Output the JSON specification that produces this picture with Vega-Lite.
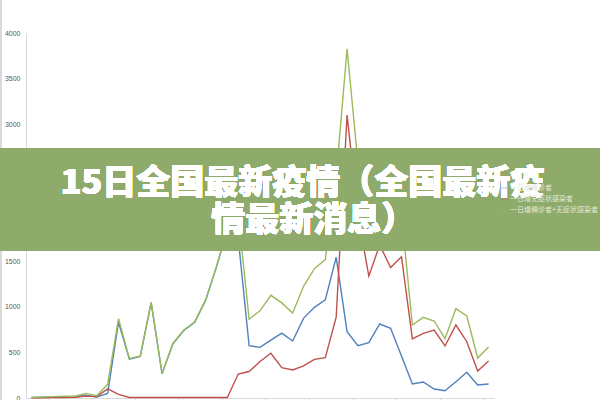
{
  "$schema": "https://vega.github.io/schema/vega-lite/v6.json",
  "autosize": {"type": "none"},
  "padding": {"left": 26, "top": 33, "right": 106, "bottom": 2},
  "width": 468,
  "height": 365,
  "background": "white",
  "config": {
    "view": {"stroke": null},
    "font": "Liberation Sans"
  },
  "data": {
    "values": [
      {"d": 0, "一日增确诊者": 5, "一日增无症状感染者": 2, "一日增确诊者+无症状感染者": 7},
      {"d": 1, "一日增确诊者": 8, "一日增无症状感染者": 2, "一日增确诊者+无症状感染者": 10},
      {"d": 2, "一日增确诊者": 10, "一日增无症状感染者": 5, "一日增确诊者+无症状感染者": 15},
      {"d": 3, "一日增确诊者": 15, "一日增无症状感染者": 5, "一日增确诊者+无症状感染者": 20},
      {"d": 4, "一日增确诊者": 12, "一日增无症状感染者": 8, "一日增确诊者+无症状感染者": 20},
      {"d": 5, "一日增确诊者": 30, "一日增无症状感染者": 20, "一日增确诊者+无症状感染者": 50},
      {"d": 6, "一日增确诊者": 10, "一日增无症状感染者": 15, "一日增确诊者+无症状感染者": 25},
      {"d": 7, "一日增确诊者": 50, "一日增无症状感染者": 100, "一日增确诊者+无症状感染者": 150},
      {"d": 8, "一日增确诊者": 830, "一日增无症状感染者": 40, "一日增确诊者+无症状感染者": 870},
      {"d": 9, "一日增确诊者": 425, "一日增无症状感染者": 5, "一日增确诊者+无症状感染者": 430},
      {"d": 10, "一日增确诊者": 455, "一日增无症状感染者": 5, "一日增确诊者+无症状感染者": 460},
      {"d": 11, "一日增确诊者": 1045, "一日增无症状感染者": 5, "一日增确诊者+无症状感染者": 1050},
      {"d": 12, "一日增确诊者": 265, "一日增无症状感染者": 5, "一日增确诊者+无症状感染者": 270},
      {"d": 13, "一日增确诊者": 595, "一日增无症状感染者": 5, "一日增确诊者+无症状感染者": 600},
      {"d": 14, "一日增确诊者": 740, "一日增无症状感染者": 5, "一日增确诊者+无症状感染者": 745},
      {"d": 15, "一日增确诊者": 830, "一日增无症状感染者": 5, "一日增确诊者+无症状感染者": 835},
      {"d": 16, "一日增确诊者": 1070, "一日增无症状感染者": 5, "一日增确诊者+无症状感染者": 1075},
      {"d": 17, "一日增确诊者": 1435, "一日增无症状感染者": 5, "一日增确诊者+无症状感染者": 1440},
      {"d": 18, "一日增确诊者": 1850, "一日增无症状感染者": 5, "一日增确诊者+无症状感染者": 1855},
      {"d": 19, "一日增确诊者": 1750, "一日增无症状感染者": 263, "一日增确诊者+无症状感染者": 2013},
      {"d": 20, "一日增确诊者": 573, "一日增无症状感染者": 290, "一日增确诊者+无症状感染者": 863},
      {"d": 21, "一日增确诊者": 555, "一日增无症状感染者": 400, "一日增确诊者+无症状感染者": 955},
      {"d": 22, "一日增确诊者": 635, "一日增无症状感染者": 490, "一日增确诊者+无症状感染者": 1125},
      {"d": 23, "一日增确诊者": 710, "一日增无症状感染者": 332, "一日增确诊者+无症状感染者": 1042},
      {"d": 24, "一日增确诊者": 625, "一日增无症状感染者": 307, "一日增确诊者+无症状感染者": 932},
      {"d": 25, "一日增确诊者": 873, "一日增无症状感染者": 351, "一日增确诊者+无症状感染者": 1224},
      {"d": 26, "一日增确诊者": 994, "一日增无症状感染者": 424, "一日增确诊者+无症状感染者": 1418},
      {"d": 27, "一日增确诊者": 1075, "一日增无症状感染者": 442, "一日增确诊者+无症状感染者": 1517},
      {"d": 28, "一日增确诊者": 1542, "一日增无症状感染者": 885, "一日增确诊者+无症状感染者": 2427},
      {"d": 29, "一日增确诊者": 727, "一日增无症状感染者": 3100, "一日增确诊者+无症状感染者": 3827},
      {"d": 30, "一日增确诊者": 573, "一日增无症状感染者": 2000, "一日增确诊者+无症状感染者": 2573},
      {"d": 31, "一日增确诊者": 606, "一日增无症状感染者": 1337, "一日增确诊者+无症状感染者": 1943},
      {"d": 32, "一日增确诊者": 811, "一日增无症状感染者": 1677, "一日增确诊者+无症状感染者": 2488},
      {"d": 33, "一日增确诊者": 764, "一日增无症状感染者": 1430, "一日增确诊者+无症状感染者": 2194},
      {"d": 34, "一日增确诊者": 460, "一日增无症状感染者": 1549, "一日增确诊者+无症状感染者": 2009},
      {"d": 35, "一日增确诊者": 153, "一日增无症状感染者": 647, "一日增确诊者+无症状感染者": 800},
      {"d": 36, "一日增确诊者": 175, "一日增无症状感染者": 709, "一日增确诊者+无症状感染者": 884},
      {"d": 37, "一日增确诊者": 99, "一日增无症状感染者": 745, "一日增确诊者+无症状感染者": 844},
      {"d": 38, "一日增确诊者": 80, "一日增无症状感染者": 570, "一日增确诊者+无症状感染者": 650},
      {"d": 39, "一日增确诊者": 179, "一日增无症状感染者": 800, "一日增确诊者+无症状感染者": 979},
      {"d": 40, "一日增确诊者": 282, "一日增无症状感染者": 617, "一日增确诊者+无症状感染者": 899},
      {"d": 41, "一日增确诊者": 142, "一日增无症状感染者": 296, "一日增确诊者+无症状感染者": 438},
      {"d": 42, "一日增确诊者": 153, "一日增无症状感染者": 405, "一日增确诊者+无症状感染者": 558}
    ]
  },
  "layer": [
    {
      "mark": {"type": "rule", "color": "#d9d9d9", "strokeWidth": 1, "clip": false},
      "encoding": {
        "x": {"datum": -2.78, "type": "quantitative"},
        "y": {"datum": 4360, "type": "quantitative"},
        "y2": {"datum": -20}
      }
    },
    {
      "transform": [
        {"fold": ["一日增确诊者", "一日增无症状感染者", "一日增确诊者+无症状感染者"], "as": ["series", "value"]}
      ],
      "mark": {"type": "line", "strokeWidth": 1.4, "clip": false},
      "encoding": {
        "x": {
          "field": "d",
          "type": "quantitative",
          "scale": {"domain": [-0.5, 42.5], "nice": false, "zero": false},
          "axis": {
            "title": null,
            "labels": false,
            "grid": false,
            "values": [1.5, 3.5, 5.5, 7.5, 9.5, 11.5, 13.5, 15.5, 17.5, 19.5, 21.5, 23.5, 25.5, 27.5, 29.5, 31.5, 33.5, 35.5, 37.5, 39.5, 41.5],
            "ticks": true,
            "tickSize": 4,
            "tickColor": "#d9d9d9",
            "domainColor": "#d9d9d9"
          }
        },
        "y": {
          "field": "value",
          "type": "quantitative",
          "scale": {"domain": [0, 4000], "nice": false},
          "axis": {
            "title": null,
            "values": [0, 500, 1000, 1500, 2000, 2500, 3000, 3500, 4000],
            "format": "d",
            "ticks": false,
            "labelFontSize": 7,
            "labelColor": "#595959",
            "labelPadding": 6,
            "gridColor": "#d9d9d9",
            "domain": true,
            "domainColor": "#d9d9d9"
          }
        },
        "color": {
          "field": "series",
          "type": "nominal",
          "scale": {
            "domain": ["一日增确诊者", "一日增无症状感染者", "一日增确诊者+无症状感染者"],
            "range": ["#4f81bd", "#c0504d", "#9bbb59"]
          },
          "legend": {
            "title": null,
            "orient": "none",
            "legendX": 474,
            "legendY": 151,
            "padding": 0,
            "offset": 0,
            "symbolType": "stroke",
            "symbolSize": 40,
            "symbolStrokeWidth": 1.2,
            "symbolOpacity": 0.35,
            "labelFontSize": 7,
            "labelColor": "#e3e9d9",
            "labelFont": "Noto Sans CJK SC",
            "rowPadding": 4,
            "labelOffset": 2,
            "labelLimit": 200
          }
        }
      }
    },
    {
      "mark": {"type": "rect", "color": "#8fab6c", "opacity": 0.9, "clip": false},
      "encoding": {
        "x": {"datum": -3, "type": "quantitative"},
        "x2": {"datum": 53},
        "y": {"datum": 2740, "type": "quantitative"},
        "y2": {"datum": 1610}
      }
    },
    {
      "mark": {
        "type": "text",
        "text": "15日全国最新疫情（全国最新疫",
        "font": "Noto Sans CJK SC",
        "fontWeight": 900,
        "fontSize": 34,
        "color": "white",
        "align": "center",
        "baseline": "middle",
        "clip": false
      },
      "encoding": {
        "x": {"datum": 24.9, "type": "quantitative"},
        "y": {"datum": 2345, "type": "quantitative"}
      }
    },
    {
      "mark": {
        "type": "text",
        "text": "情最新消息）",
        "font": "Noto Sans CJK SC",
        "fontWeight": 900,
        "fontSize": 34,
        "color": "white",
        "align": "center",
        "baseline": "middle",
        "clip": false
      },
      "encoding": {
        "x": {"datum": 25.9, "type": "quantitative"},
        "y": {"datum": 1945, "type": "quantitative"}
      }
    }
  ]
}
